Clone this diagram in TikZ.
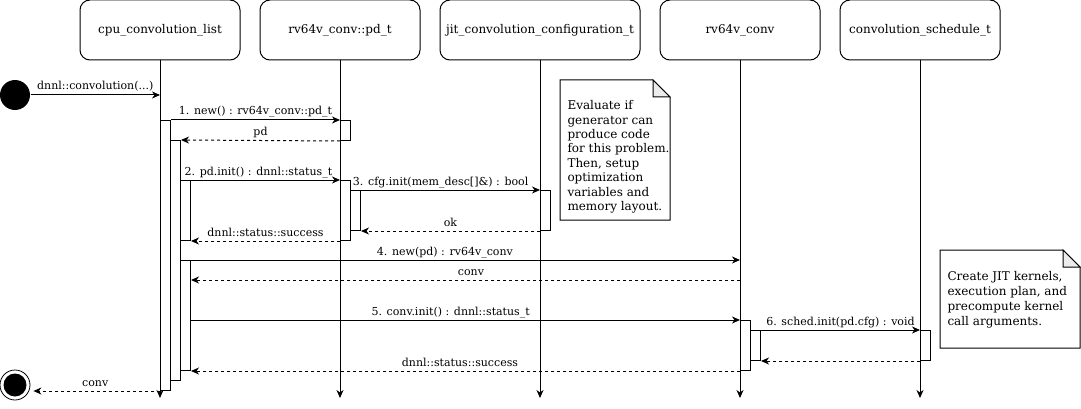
\documentclass[tikz,border=0pt]{standalone}
\usepackage{fontspec}
\setmainfont{DejaVuSerif}[Extension=.ttf, BoldFont=DejaVuSerif-Bold]
\usetikzlibrary{arrows.meta}
\begin{document}
\begin{tikzpicture}[x=1pt,y=-1pt,line width=1pt,
  every node/.style={font=\fontsize{11}{13}\selectfont},
  head/.style={draw, rounded corners=10pt, minimum width=160pt, minimum height=60pt, inner sep=0pt, font=\fontsize{12}{14}\selectfont},
  tip/.style={-{Stealth[length=8pt,width=7pt,inset=2.5pt]}},
  life/.style={draw, tip},
  act/.style={draw, fill=white, minimum width=10pt, inner sep=0pt, anchor=north west},
  msg/.style={tip},
  ret/.style={tip, dash pattern=on 3pt off 3pt},
  lbl/.style={anchor=base, yshift=5pt, inner sep=0pt},
  notetext/.style={anchor=north west, inner sep=0pt, align=left},
  fold/.style={fill=gray!15}
]
\useasboundingbox (0,0) rectangle (1081,409);

% headers
\node[head] (H1) at (160,30) {cpu\_convolution\_list};
\node[head] (H2) at (340,30) {rv64v\_conv::pd\_t};
\node[head, minimum width=200pt] (H3) at (540,30) {jit\_convolution\_configuration\_t};
\node[head] (H4) at (740,30) {rv64v\_conv};
\node[head] (H5) at (920,30) {convolution\_schedule\_t};

% lifeline ends
\coordinate (E1) at (160,398);
\coordinate (E2) at (340,398);
\coordinate (E3) at (540,398);
\coordinate (E4) at (740,398);
\coordinate (E5) at (920,398);
\draw[life] (H1.south) -- (E1);
\draw[life] (H2.south) -- (E2);
\draw[life] (H3.south) -- (E3);
\draw[life] (H4.south) -- (E4);
\draw[life] (H5.south) -- (E5);

% activation bars
\node[act, minimum height=270pt] (A1) at (160,120) {};
\node[act, minimum height=240pt] (A2) at (170,140) {};
\node[act, minimum height=60pt] (A3) at (180,180) {};
\node[act, minimum height=110pt] (A4) at (180,260) {};
\node[act, minimum height=20pt] (B1) at (340,120) {};
\node[act, minimum height=60pt] (B2) at (340,180) {};
\node[act, minimum height=40pt] (B3) at (350,190) {};
\node[act, minimum height=40pt] (C1) at (540,190) {};
\node[act, minimum height=50pt] (D1) at (740,320) {};
\node[act, minimum height=30pt] (D2) at (750,330) {};
\node[act, minimum height=30pt] (F1) at (920,330) {};

% start / end
\node[circle, fill, minimum size=30pt, inner sep=0pt] (S) at (15,95) {};
\node[circle, draw, minimum size=30pt, inner sep=0pt, line width=0.8pt] (T) at (15,385) {};
\node[circle, fill, minimum size=23pt, inner sep=0pt] (Tin) at (T) {};

% message anchor points
\coordinate (c0) at (160,95);
\coordinate (c4) at (740,260);
\coordinate (c4r) at (740,280);

% messages
\draw[msg] (S.east) -- node[lbl] {dnnl::convolution(...)} (c0);
\draw[msg] (A1.north east) -- node[lbl] {1. new() : rv64v\_conv::pd\_t} (B1.north west);
\draw[ret] (B1.south west) -- node[lbl] {pd} (A2.north east);
\draw[msg] (A3.north west) -- node[lbl, pos=0.49] {2. pd.init() : dnnl::status\_t} (B2.north west);
\draw[msg] (B3.north east) -- node[lbl, pos=0.445] {3. cfg.init(mem\_desc[]\&) : bool} (C1.north west);
\draw[ret] (C1.south west) -- node[lbl] {ok} (B3.south east);
\draw[ret] (B2.south west) -- node[lbl] {dnnl::status::success} (A3.south east);
\draw[msg] (A4.north west) -- node[lbl, pos=0.473] {4. new(pd) : rv64v\_conv} (c4);
\draw[ret] (c4r) -- node[lbl, pos=0.49] {conv} (A4.east |- c4r);
\draw[msg] (A4.east |- D1.north west) -- node[lbl, pos=0.473] {5. conv.init() : dnnl::status\_t} (D1.north west);
\draw[msg] (D2.north east) -- node[lbl] {6. sched.init(pd.cfg) : void} (F1.north west);
\draw[ret] (F1.south west) -- (D2.south east);
\draw[ret] (D1.south west) -- node[lbl, pos=0.51] {dnnl::status::success} (A4.south east);
\draw[ret, shorten >=3pt] (A1.south west) -- node[lbl] {conv} (A1.south west -| T.east);

% note 1
\draw (560,80) -- (653,80) -- (670,97) -- (670,220) -- (560,220) -- cycle;
\draw[fold] (653,80) -- (653,97) -- (670,97) -- cycle;
\node[notetext, font=\fontsize{12}{14.4}\selectfont] (N1) at (567,100) {Evaluate if\\generator can\\produce code\\for this problem.\\Then, setup\\optimization\\variables and\\memory layout.};

% note 2
\draw (940,250) -- (1063,250) -- (1080,267) -- (1080,348) -- (940,348) -- cycle;
\draw[fold] (1063,250) -- (1063,267) -- (1080,267) -- cycle;
\node[notetext, font=\fontsize{12}{15}\selectfont] (N2) at (947,270.5) {Create JIT kernels,\\execution plan, and\\precompute kernel\\call arguments.};
\end{tikzpicture}
\end{document}
